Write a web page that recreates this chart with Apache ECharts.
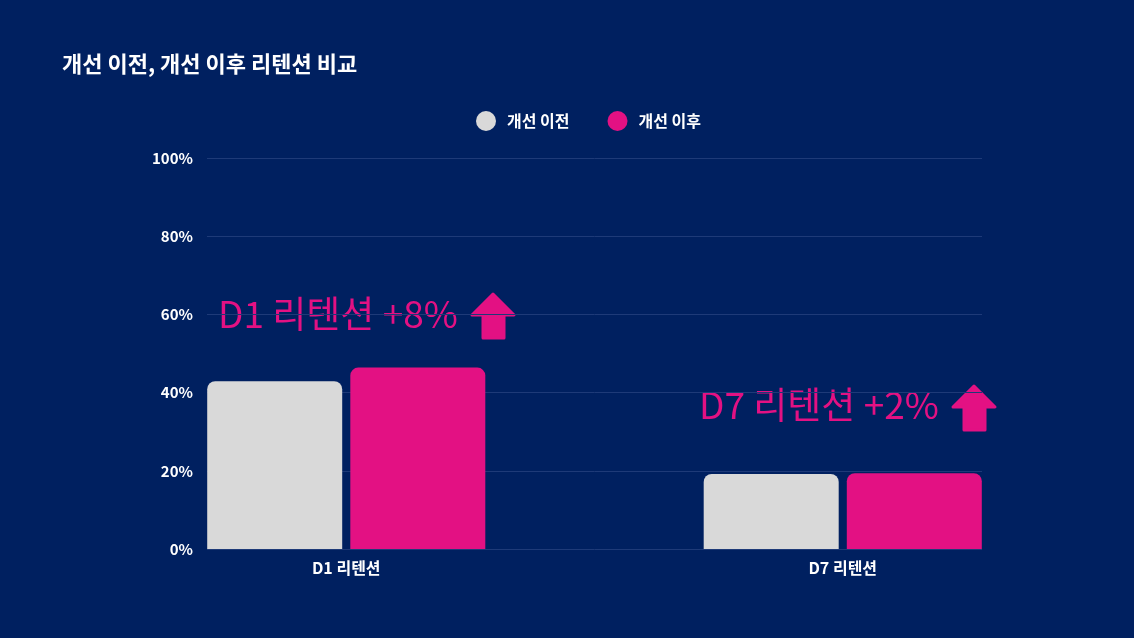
<!DOCTYPE html>
<html>
<head>
<meta charset="utf-8">
<script src="https://cdn.jsdelivr.net/npm/echarts@6/dist/echarts.min.js"></script>
<style>
html,body{margin:0;padding:0;background:#002060;}
#c{width:1134px;height:638px;}
</style>
</head>
<body>
<div id="c"></div>
<script>
const categories = ['D1 리텐션', 'D7 리텐션'];
const seriesNames = ['개선 이전', '개선 이후'];
const beforeValues = [42.9, 19.2];
const afterValues = [46.4, 19.4];
const yTicks = [0, 20, 40, 60, 80, 100];
const annotations = ['D1 리텐션 +8%', 'D7 리텐션 +2%'];

const FONT = '"Noto Sans CJK KR", "Noto Sans", sans-serif';
const GRAY = '#D9D9D9';
const PINK = '#E31183';

function arrow(x, y) {
  // x,y = top tip
  return {
    type: 'polygon',
    shape: {
      points: [
        [x, y], [x + 21, y + 21], [x + 11, y + 21], [x + 11, y + 44],
        [x - 10, y + 44], [x - 10, y + 21], [x - 21, y + 21]
      ]
    },
    style: { fill: PINK, stroke: PINK, lineWidth: 3, lineJoin: 'round' }
  };
}

const chart = echarts.init(document.getElementById('c'));
chart.setOption({
  backgroundColor: '#002060',
  animation: false,
  title: {
    text: '개선 이전, 개선 이후 리텐션 비교',
    left: 57, top: 48,
    textStyle: { color: '#fff', fontSize: 22, fontWeight: 'bold', fontFamily: FONT }
  },
  legend: {
    data: seriesNames,
    left: 471, top: 106,
    icon: 'circle',
    itemWidth: 20, itemHeight: 20, itemGap: 38,
    textStyle: { color: '#fff', fontSize: 16, fontWeight: 'bold', fontFamily: FONT, padding: [0, 0, 0, 6] }
  },
  grid: [
    { left: 207, right: 152, top: 158, bottom: 89 },
    { left: 98, right: 43, top: 158, bottom: 89 }
  ],
  xAxis: [
    { gridIndex: 0, type: 'category', data: categories, show: false },
    {
      gridIndex: 1, type: 'category', data: categories,
      axisLine: { show: false }, axisTick: { show: false },
      axisLabel: { color: '#fff', fontSize: 16, fontWeight: 'bold', fontFamily: FONT, margin: 11 }
    }
  ],
  yAxis: [
    {
      gridIndex: 0, type: 'value', min: yTicks[0], max: yTicks[yTicks.length - 1], interval: 20,
      axisLine: { show: false }, axisTick: { show: false },
      splitLine: { lineStyle: { color: '#1E3A78', width: 1 } },
      axisLabel: { color: '#fff', fontSize: 15, fontWeight: 'bold', fontFamily: FONT, margin: 14, formatter: '{value}%' }
    },
    { gridIndex: 1, type: 'value', min: 0, max: 100, show: false }
  ],
  graphic: [
    { type: 'text', left: 218, top: 295, style: { text: annotations[0], fill: PINK, fontSize: 37, fontFamily: FONT, fontWeight: 'normal' } },
    arrow(493, 294),
    { type: 'text', left: 699, top: 386, style: { text: annotations[1], fill: PINK, fontSize: 37, fontFamily: FONT, fontWeight: 'normal' } },
    arrow(974, 386)
  ],
  series: [
    {
      name: seriesNames[0], type: 'bar', xAxisIndex: 1, yAxisIndex: 1,
      data: beforeValues, barWidth: 135, barGap: '6%',
      itemStyle: { color: GRAY, borderRadius: [8, 8, 0, 0] }
    },
    {
      name: seriesNames[1], type: 'bar', xAxisIndex: 1, yAxisIndex: 1,
      data: afterValues, barWidth: 135,
      itemStyle: { color: PINK, borderRadius: [8, 8, 0, 0] }
    }
  ]
});
</script>
</body>
</html>
